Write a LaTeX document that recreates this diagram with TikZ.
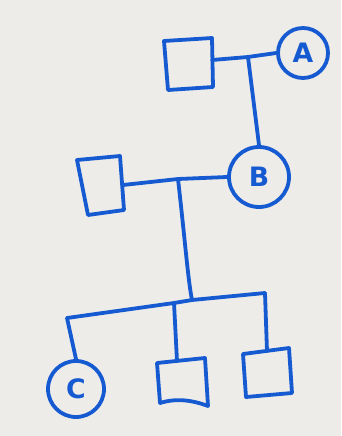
\documentclass[tikz,border=0pt]{standalone}
\usepackage{fontspec}
\setsansfont{DejaVu Sans}
\definecolor{inkblue}{RGB}{22,90,210}
\definecolor{paper}{RGB}{238,236,232}
\begin{document}
\begin{tikzpicture}[x=0.25mm,y=-0.25mm,
    ink/.style={draw=inkblue, line width=0.95mm, line join=round, line cap=round},
    female/.style={ink, circle, inner sep=0pt, text=inkblue,
      font=\sffamily\bfseries\fontsize{19}{19}\selectfont}]
  \fill[paper] (0,0) rectangle (341,436);
  \useasboundingbox (0,0) rectangle (341,436);

  % ---- generation I ----
  \coordinate (q1a) at (164,41);  \coordinate (q1b) at (212,38);
  \coordinate (q1c) at (213,87);  \coordinate (q1d) at (168,90);
  \draw[ink] (q1a) -- (q1b) -- (q1c) -- (q1d) -- cycle;
  \node[female, minimum size=50*0.25mm] (A) at (303,53) {A};
  \coordinate (q1r) at (212,60);
  \coordinate (m1) at (248,57);
  \draw[ink] (q1r) -- (m1) -- (A.west);

  % ---- generation II ----
  \node[female, minimum size=60*0.25mm] (B) at (259,177) {B};
  \draw[ink] (m1) -- (B.north);

  \coordinate (q2a) at (77,160);  \coordinate (q2b) at (120,156);
  \coordinate (q2c) at (124,210); \coordinate (q2d) at (88,215);
  \draw[ink] (q2a) -- (q2b) -- (q2c) -- (q2d) -- cycle;
  \coordinate (q2r) at (123,185);
  \coordinate (m2) at (178,179);
  \draw[ink] (q2r) -- (m2) -- (B.west);

  % ---- sibship line ----
  \coordinate (s0) at (67,318);
  \coordinate (s1) at (174,303);
  \coordinate (s2) at (192,300);
  \coordinate (s3) at (265,293);
  \draw[ink] (m2) .. controls (185,240) and (188,280) .. (s2);
  \draw[ink] (s0) -- (s1) -- (s2) -- (s3);

  % ---- generation III ----
  \node[female, minimum size=56*0.25mm] (C) at (76,389) {C};
  \draw[ink] (s0) -- (C.north);

  \coordinate (q3a) at (157,363); \coordinate (q3b) at (205,358);
  \coordinate (q3c) at (208,406); \coordinate (q3d) at (160,403);
  \draw[ink] (q3a) -- (q3b) -- (q3c)
    .. controls (192,400) and (176,398) .. (q3d) -- cycle;
  \coordinate (q3t) at (177,361);
  \draw[ink] (s1) -- (q3t);

  \coordinate (q4a) at (243,354); \coordinate (q4b) at (289,348);
  \coordinate (q4c) at (292,393); \coordinate (q4d) at (246,397);
  \draw[ink] (q4a) -- (q4b) -- (q4c) -- (q4d) -- cycle;
  \coordinate (q4t) at (267,351);
  \draw[ink] (s3) -- (q4t);
\end{tikzpicture}
\end{document}
